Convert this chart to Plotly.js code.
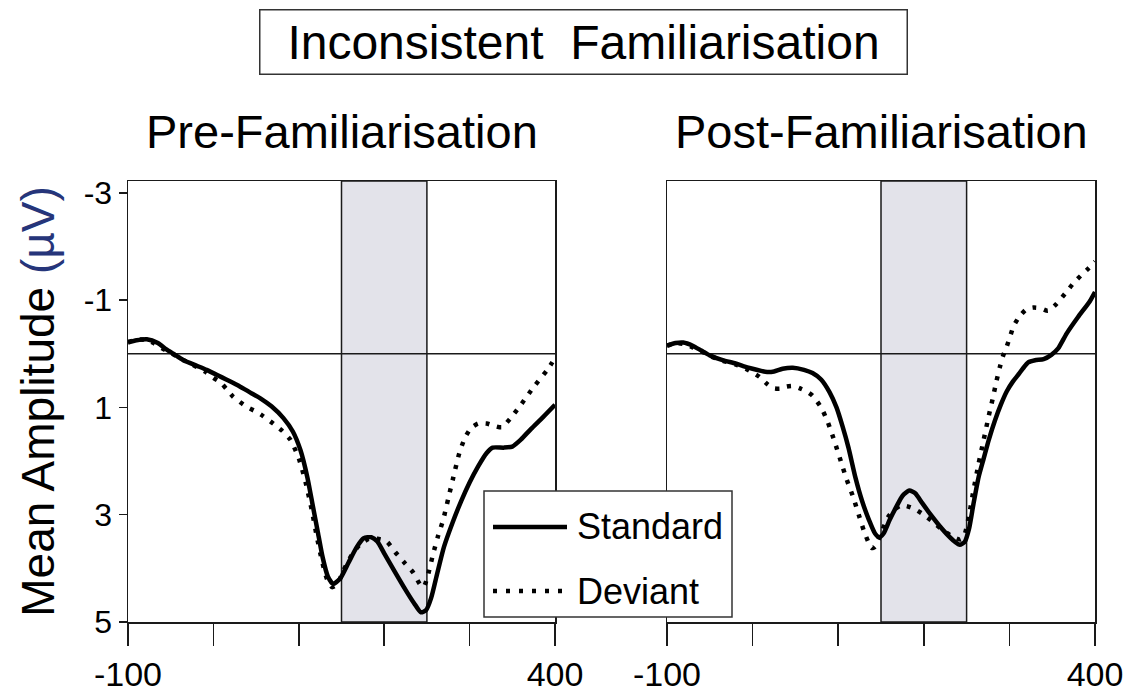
<!DOCTYPE html>
<html>
<head>
<meta charset="utf-8">
<script src="https://cdn.plot.ly/plotly-3.0.1.min.js"></script>
<style>html,body{margin:0;padding:0;background:#fff;}#chart{width:1133px;height:692px;}</style>
</head>
<body>
<div id="chart"></div>
<script>
// ---------- data (time in ms, amplitude in µV) ----------
const preStdX = [-100,-90,-78,-65,-55,-47,-35,-20,-8,5,15,30,45,55,68,82,93,102,110,116,122,128,134,140,148,158,168,176,185,192,200,212,225,235,243,249,255,262,270,280,290,300,310,320,327,340,350,360,372,386,400];
const preStdY = [-0.21,-0.25,-0.27,-0.2,-0.08,0.0,0.12,0.22,0.3,0.4,0.48,0.6,0.74,0.83,0.98,1.2,1.45,1.8,2.3,2.8,3.3,3.8,4.15,4.29,4.2,3.9,3.6,3.44,3.42,3.5,3.72,4.05,4.4,4.65,4.82,4.78,4.55,4.1,3.6,3.15,2.75,2.4,2.1,1.85,1.75,1.75,1.73,1.6,1.4,1.18,0.95];

const preDevX = [-100,-90,-80,-70,-60,-50,-40,-25,-10,0,8,15,23,31,39,50,58,70,80,90,100,108,115,121,127,133,139,145,152,162,172,182,192,203,213,224,234,242,246,250,257,263,269,275,281,288,295,302,310,320,330,338,348,361,375,391,400];
const preDevY = [-0.22,-0.26,-0.26,-0.2,-0.1,-0.02,0.08,0.2,0.33,0.45,0.53,0.65,0.8,0.9,0.99,1.08,1.16,1.3,1.43,1.6,1.95,2.4,2.9,3.4,3.85,4.2,4.35,4.3,4.05,3.75,3.55,3.45,3.45,3.5,3.7,3.9,4.08,4.3,4.35,4.2,3.75,3.4,3.1,2.7,2.3,1.85,1.55,1.38,1.3,1.3,1.35,1.37,1.2,0.93,0.62,0.3,0.08];

const postStdX = [-100,-90,-81,-70,-60,-50,-35,-20,-11,0,10,17,25,35,47,60,70,80,90,98,105,112,120,128,136,143,148,153,160,168,175,183,190,198,208,218,228,236,242,248,253,258,264,270,276,283,290,297,304,310,316,322,330,340,349,357,367,380,394,400];
const postStdY = [-0.15,-0.2,-0.21,-0.15,-0.06,0.03,0.12,0.18,0.23,0.28,0.32,0.34,0.33,0.28,0.26,0.3,0.36,0.48,0.72,1.0,1.35,1.75,2.3,2.75,3.1,3.35,3.42,3.35,3.1,2.85,2.65,2.55,2.6,2.78,3.0,3.2,3.38,3.5,3.56,3.5,3.25,2.8,2.3,1.95,1.6,1.25,0.95,0.7,0.52,0.4,0.27,0.16,0.12,0.1,0.02,-0.1,-0.38,-0.68,-0.98,-1.15];

const postDevX = [-100,-90,-80,-70,-60,-50,-35,-20,-8,0,8,16,24,32,40,48,56,63,70,80,88,96,103,110,117,124,130,135,139,143,150,158,166,173,180,190,200,212,223,235,243,248,253,258,264,270,276,281,285,289,293,297,301,305,312,320,328,336,345,355,365,375,385,393,400];
const postDevY = [-0.15,-0.2,-0.18,-0.12,-0.05,0.04,0.13,0.2,0.28,0.35,0.43,0.55,0.64,0.65,0.61,0.6,0.65,0.7,0.78,1.0,1.28,1.65,2.0,2.35,2.65,3.0,3.3,3.5,3.62,3.6,3.35,3.05,2.9,2.83,2.84,2.9,3.0,3.15,3.3,3.42,3.46,3.35,3.0,2.55,2.05,1.6,1.15,0.8,0.5,0.24,0.02,-0.14,-0.33,-0.52,-0.7,-0.83,-0.86,-0.85,-0.8,-0.93,-1.12,-1.32,-1.48,-1.6,-1.72];

const seriesNames = ["Standard", "Deviant"];
const panelTitles = ["Pre-Familiarisation", "Post-Familiarisation"];
const mainTitle = "Inconsistent\u00a0 Familiarisation";
const yTitle = "Mean Amplitude <span style='color:#26357a'>(µV)</span>";
const xTickVals = [-100, 0, 100, 200, 300, 400];
const xTickText = ["-100", "", "", "", "", "400"];
const yTickVals = [-3, -1, 1, 3, 5];
const yTickText = ["-3", "-1", "1", "3", "5"];
const windowMs = [150, 250];
const baselineUV = 0;

// ---------- styling ----------
const FONT = "Liberation Sans, Arial, sans-serif";
const INK = "#1a1a1a";
const solidLine = {color: "#000", width: 4.5, shape: "spline", smoothing: 0.6};
const dotLine = {color: "#000", width: 4.5, dash: "4px,8px", shape: "spline", smoothing: 0.6};

const traces = [
  {x: preStdX, y: preStdY, name: seriesNames[0], mode: "lines", line: solidLine, xaxis: "x", yaxis: "y", showlegend: false},
  {x: preDevX, y: preDevY, name: seriesNames[1], mode: "lines", line: dotLine, xaxis: "x", yaxis: "y", showlegend: false},
  {x: postStdX, y: postStdY, name: seriesNames[0], mode: "lines", line: solidLine, xaxis: "x2", yaxis: "y2", showlegend: false},
  {x: postDevX, y: postDevY, name: seriesNames[1], mode: "lines", line: dotLine, xaxis: "x2", yaxis: "y2", showlegend: false}
];

const L = 128, R = 38, T = 181, B = 70, W = 1133, H = 692;
const PW = W - L - R, PH = H - T - B;
const px2x = p => (p - L) / PW;
const px2y = p => (H - B - p) / PH;

const xCommon = {
  range: [-100, 400], autorange: false, fixedrange: true,
  showline: true, mirror: true, linecolor: INK, linewidth: 1.5,
  showgrid: false, zeroline: false,
  ticks: "outside", ticklen: 22, tickwidth: 1.5, tickcolor: INK,
  tickmode: "array", tickvals: xTickVals, ticktext: xTickText,
  tickfont: {family: FONT, size: 34, color: "#000"}
};
const yCommon = {
  range: [5, -3.22], autorange: false, fixedrange: true,
  showline: true, mirror: true, linecolor: INK, linewidth: 1.5,
  showgrid: false, zeroline: false
};

const shapes = [];
[["x", "y"], ["x2", "y2"]].forEach(([xa, ya]) => {
  shapes.push({type: "rect", layer: "below", xref: xa, yref: ya + " domain",
    x0: windowMs[0], x1: windowMs[1], y0: 0, y1: 1,
    fillcolor: "#e3e3ea", line: {color: INK, width: 1.5}});
  shapes.push({type: "line", layer: "below", xref: xa + " domain", yref: ya,
    x0: 0, x1: 1, y0: baselineUV, y1: baselineUV, line: {color: INK, width: 1.5}});
});
// legend box (drawn manually)
shapes.push({type: "rect", layer: "above", xref: "paper", yref: "paper",
  x0: px2x(484), x1: px2x(732), y0: px2y(617), y1: px2y(491),
  fillcolor: "#fff", line: {color: "#333", width: 1.5}});
shapes.push({type: "line", layer: "above", xref: "paper", yref: "paper",
  x0: px2x(493), x1: px2x(567), y0: px2y(527), y1: px2y(527),
  line: {color: "#000", width: 4.5}});
shapes.push({type: "line", layer: "above", xref: "paper", yref: "paper",
  x0: px2x(493), x1: px2x(562), y0: px2y(591), y1: px2y(591),
  line: {color: "#000", width: 4.5, dash: "4px,9px"}});

const annotations = [
  {text: mainTitle, xref: "paper", yref: "paper", x: px2x(583), y: px2y(42.5),
   xanchor: "center", yanchor: "middle", showarrow: false,
   width: 646, height: 63, bordercolor: "#333", borderwidth: 1.5, borderpad: 0,
   bgcolor: "#fff", font: {family: FONT, size: 48, color: "#000"}},
  {text: panelTitles[0], xref: "paper", yref: "paper", x: px2x(341.5), y: px2y(131),
   xanchor: "center", yanchor: "middle", showarrow: false,
   font: {family: FONT, size: 47, color: "#000"}},
  {text: panelTitles[1], xref: "paper", yref: "paper", x: px2x(881), y: px2y(131),
   xanchor: "center", yanchor: "middle", showarrow: false,
   font: {family: FONT, size: 47, color: "#000"}},
  {text: seriesNames[0], xref: "paper", yref: "paper", x: px2x(575), y: px2y(526),
   xanchor: "left", yanchor: "middle", showarrow: false,
   font: {family: FONT, size: 36, color: "#000"}},
  {text: seriesNames[1], xref: "paper", yref: "paper", x: px2x(575), y: px2y(591),
   xanchor: "left", yanchor: "middle", showarrow: false,
   font: {family: FONT, size: 36, color: "#000"}}
];

const layout = {
  width: W, height: H,
  margin: {l: L, r: R, t: T, b: B},
  paper_bgcolor: "#fff", plot_bgcolor: "#fff",
  showlegend: false,
  font: {family: FONT, color: "#000"},
  xaxis: Object.assign({}, xCommon, {domain: [0, px2x(555)], anchor: "y"}),
  xaxis2: Object.assign({}, xCommon, {domain: [px2x(667), 1], anchor: "y2"}),
  yaxis: Object.assign({}, yCommon, {
    domain: [0, 1], anchor: "x",
    ticks: "outside", ticklen: 8, tickwidth: 1.5, tickcolor: INK,
    tickmode: "array", tickvals: yTickVals, ticktext: yTickText,
    tickfont: {family: FONT, size: 32, color: "#000"},
    title: {text: yTitle, font: {family: FONT, size: 46, color: "#000"}, standoff: 14}
  }),
  yaxis2: Object.assign({}, yCommon, {domain: [0, 1], anchor: "x2", showticklabels: false, ticks: ""}),
  shapes: shapes,
  annotations: annotations
};

Plotly.newPlot("chart", traces, layout, {staticPlot: true, displayModeBar: false});
</script>
</body>
</html>
